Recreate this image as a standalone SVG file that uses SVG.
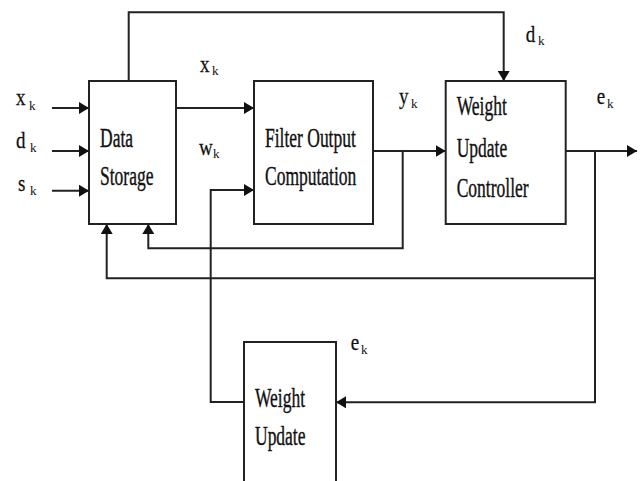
<svg xmlns="http://www.w3.org/2000/svg" width="642" height="481" viewBox="0 0 642 481">
<style>
.box{fill:#fff;stroke:#222;stroke-width:2}
.ln{fill:none;stroke:#222;stroke-width:2}
.t{font-family:"Liberation Serif","Times New Roman",serif;font-size:17.5px;fill:#111;stroke:#111;stroke-width:0.25}
.v{font-family:"Liberation Serif","Times New Roman",serif;font-size:19px;fill:#111;stroke:#111;stroke-width:0.2}
.s{font-family:"Liberation Serif","Times New Roman",serif;font-size:13px;fill:#111}
</style>
<defs>
<marker id="ah" viewBox="0 0 10 12" refX="10" refY="6" markerWidth="10" markerHeight="12" markerUnits="userSpaceOnUse" orient="auto">
<path d="M0,0 L10,6 L0,12 z" fill="#111"/>
</marker>
</defs>
<rect width="642" height="481" fill="#fff"/>
<g id="connectors">
<path class="ln" d="M128.7,81 V12.3 H503.7 V81" marker-end="url(#ah)"/>
<path class="ln" d="M52,108 H89" marker-end="url(#ah)"/>
<path class="ln" d="M52,151 H89" marker-end="url(#ah)"/>
<path class="ln" d="M52,190.7 H89" marker-end="url(#ah)"/>
<path class="ln" d="M176,108 H254" marker-end="url(#ah)"/>
<path class="ln" d="M244,402 H210.7 V190 H254" marker-end="url(#ah)"/>
<path class="ln" d="M373,151 H445.7" marker-end="url(#ah)"/>
<path class="ln" d="M402.7,151 V248.3 H148.3 V224" marker-end="url(#ah)"/>
<path class="ln" d="M565.7,151 H637" marker-end="url(#ah)"/>
<path class="ln" d="M595,151 V402.3 H336" marker-end="url(#ah)"/>
<path class="ln" d="M595,278.3 H106.7 V224" marker-end="url(#ah)"/>
</g>
<g id="data-storage">
<rect class="box" x="89" y="81" width="87" height="143"/>
<text class="t" transform="translate(100,146.7) scale(1,1.6)">Data</text>
<text class="t" transform="translate(100,185) scale(1,1.6)">Storage</text>
</g>
<g id="filter-output">
<rect class="box" x="254" y="81" width="119" height="143"/>
<text class="t" transform="translate(265,146.7) scale(1,1.6)">Filter Output</text>
<text class="t" transform="translate(265,185) scale(1,1.6)">Computation</text>
</g>
<g id="weight-update-controller">
<rect class="box" x="445.7" y="81" width="120" height="143"/>
<text class="t" transform="translate(456.7,115) scale(1,1.6)">Weight</text>
<text class="t" transform="translate(456.7,156.7) scale(1,1.6)">Update</text>
<text class="t" transform="translate(456.7,196.7) scale(1,1.6)">Controller</text>
</g>
<g id="weight-update">
<rect class="box" x="244" y="342" width="92" height="150"/>
<text class="t" transform="translate(255,406.7) scale(1,1.6)">Weight</text>
<text class="t" transform="translate(255,445) scale(1,1.6)">Update</text>
</g>
<g id="labels">
<text class="v" transform="translate(16,105) scale(1,1.25)">x</text><text class="s" x="29" y="110">k</text>
<text class="v" transform="translate(16,148.3) scale(1,1.25)">d</text><text class="s" x="30" y="152">k</text>
<text class="v" transform="translate(18,191) scale(1,1.25)">s</text><text class="s" x="30" y="195">k</text>
<text class="v" transform="translate(200,71.7) scale(1,1.25)">x</text><text class="s" x="212" y="75">k</text>
<text class="v" transform="translate(199,155) scale(1,1.25)">w</text><text class="s" x="213" y="158">k</text>
<text class="v" transform="translate(399,104) scale(1,1.25)">y</text><text class="s" x="411" y="108">k</text>
<text class="v" transform="translate(525.7,41.7) scale(1,1.25)">d</text><text class="s" x="538" y="45">k</text>
<text class="v" transform="translate(596.7,104) scale(1,1.25)">e</text><text class="s" x="607" y="108">k</text>
<text class="v" transform="translate(350.7,350) scale(1,1.25)">e</text><text class="s" x="361" y="354">k</text>
</g>
</svg>
